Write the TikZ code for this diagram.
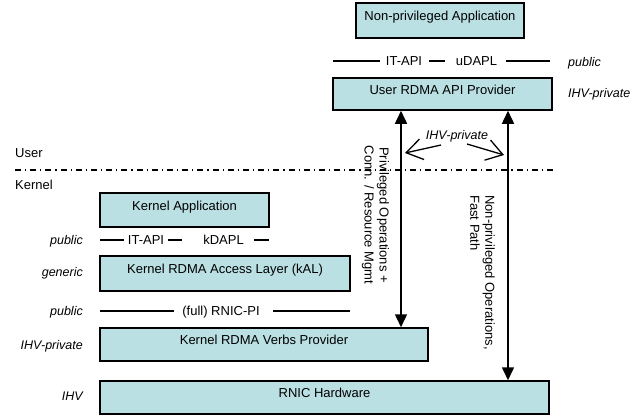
\documentclass[tikz,border=0pt]{standalone}
\usepackage{fontspec}
\setmainfont{Liberation Sans}
\usetikzlibrary{arrows.meta}
\definecolor{boxfill}{RGB}{186,224,227}
\begin{document}
\begin{tikzpicture}[x=1pt,y=-1pt,
  box/.style={draw=black,line width=1.5pt,fill=boxfill,font=\fontsize{13}{15}\selectfont,
    text height=4pt,text depth=4pt,inner sep=0pt},
  lbl/.style={font=\fontsize{13}{15}\selectfont,text height=9pt,text depth=0pt,inner sep=0pt},
  ilbl/.style={font=\fontsize{12.5}{15}\selectfont\itshape,text height=9pt,text depth=0pt,inner sep=0pt},
  iface/.style={line width=1.3pt},
  dbl/.style={line width=1.5pt,{Triangle[width=12pt,length=13pt]}-{Triangle[width=12pt,length=13pt]}},
  barb/.style={line width=1.3pt,-{Straight Barb[length=16pt,width=21pt]}},
  rot/.style={font=\fontsize{13}{15}\selectfont,rotate=-90,inner sep=0pt}
]
\useasboundingbox (0,0) rectangle (642,415);

% boxes
\node[box,minimum width=168pt,minimum height=35pt] (napp) at (440,20.5) {Non-privileged Application};
\node[box,minimum width=219pt,minimum height=32pt] (user) at (442.5,94) {User RDMA API Provider};
\node[box,minimum width=169pt,minimum height=34pt] (kapp) at (184.5,210) {Kernel Application};
\node[box,minimum width=250pt,minimum height=35pt] (kal) at (225,273.5) {Kernel RDMA Access Layer (kAL)};
\node[box,minimum width=328pt,minimum height=33pt] (verbs) at (264,344.5) {Kernel RDMA Verbs Provider};
\node[box,minimum width=449pt,minimum height=33pt] (rnic) at (324.5,397.5) {RNIC Hardware};

% user / kernel separator
\node[lbl,anchor=west] (userlbl) at (15,153) {User};
\node[lbl,anchor=west] (kernlbl) at (15,185) {Kernel};
\coordinate (sepL) at (15,170);
\coordinate (sepR) at (556,170);
\draw[line width=1.2pt,dash pattern=on 6pt off 4pt on 1.2pt off 4pt] (sepL) -- (sepR);

% top interface line
\node[lbl] (itapiU) at (404,61) {IT-API};
\node[lbl] (udapl) at (476.5,61) {uDAPL};
\draw[iface] (333,61) -- (380,61);
\draw[iface] (429,61) -- (445,61);
\draw[iface] (506,61) -- (550,61);
\node[ilbl,anchor=west] (pubR) at (568,62) {public};
\node[ilbl,anchor=west] (ihvR) at (568,93) {IHV-private};

% kernel interface line
\node[lbl] (itapiK) at (146,240) {IT-API};
\node[lbl] (kdapl) at (223.5,240) {kDAPL};
\draw[iface] (100,240) -- (124,240);
\draw[iface] (168,240) -- (182,240);
\draw[iface] (254,240) -- (269,240);

% RNIC-PI line
\node[lbl] (rnicpi) at (221,311) {(full) RNIC-PI};
\draw[iface] (100,311) -- (174,311);
\draw[iface] (273,311) -- (350,311);

% left labels
\node[ilbl,anchor=east] (l1) at (83,240) {public};
\node[ilbl,anchor=east] (l2) at (83,272) {generic};
\node[ilbl,anchor=east] (l3) at (83,311) {public};
\node[ilbl,anchor=east] (l4) at (83,345) {IHV-private};
\node[ilbl,anchor=east] (l5) at (83,396) {IHV};

% vertical arrows
\coordinate (xl) at (401,0);
\coordinate (xr) at (508,0);
\draw[dbl] (user.south -| xl) -- (verbs.north -| xl);
\draw[dbl] (user.south -| xr) -- (rnic.north -| xr);

% rotated texts
\node[rot,align=center] (priv) at (375.5,215) {Privileged Operations +\\Conn. / Resource Mgmt};
\node[rot,align=left,anchor=west] (nonpriv) at (482.5,195) {Non-privileged Operations,\\Fast Path};

% IHV-private between arrows
\node[ilbl] (ihvmid) at (457,135) {IHV-private};
\coordinate (bL0) at (441,145);
\coordinate (bL1) at (405,153);
\coordinate (bR0) at (467,144);
\coordinate (bR1) at (504,155);
\draw[barb] (bL0) -- (bL1);
\draw[barb] (bR0) -- (bR1);
\end{tikzpicture}
\end{document}
